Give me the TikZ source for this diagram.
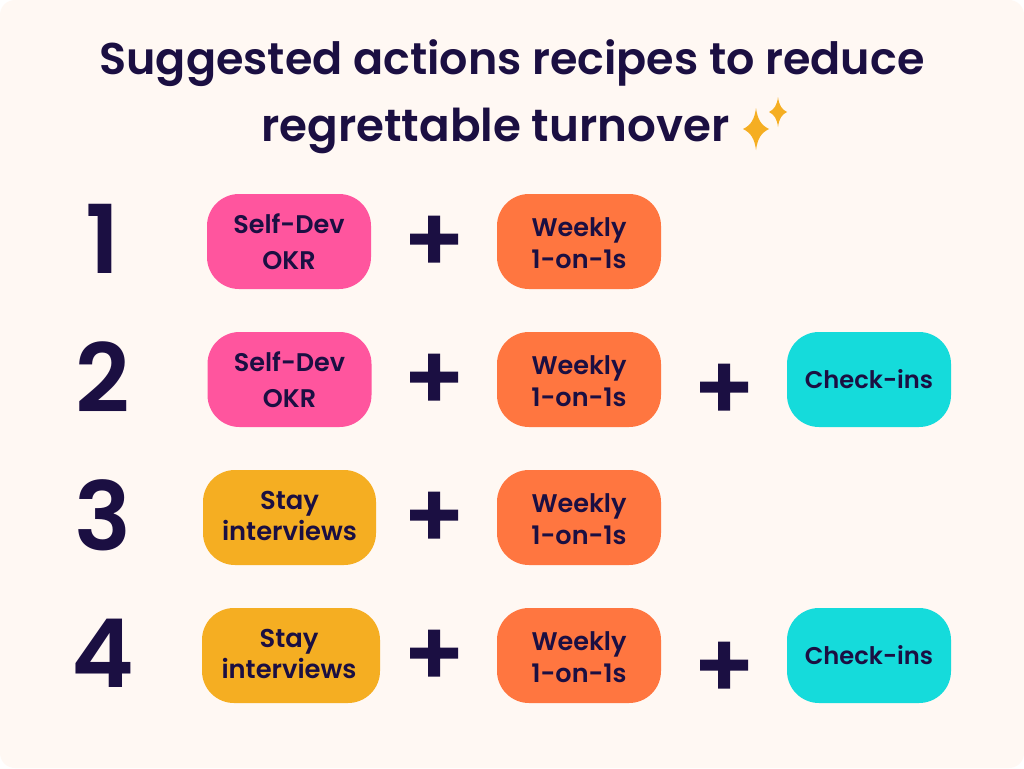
\documentclass[tikz,border=0pt]{standalone}
\usepackage{fontspec}
\setmainfont{Poppins}[BoldFont={Poppins SemiBold}]
\definecolor{ink}{HTML}{1B0F42}
\definecolor{paper}{HTML}{FFF8F3}
\definecolor{pinkbox}{HTML}{FF559E}
\definecolor{orangebox}{HTML}{FF7640}
\definecolor{tealbox}{HTML}{15DBDB}
\definecolor{yellowbox}{HTML}{F5AE22}
\tikzset{
  x=1pt,y=-1pt,
  chip/.style={rounded corners=32pt,minimum height=95pt,text=ink,align=center,inner sep=0pt,text height=0pt,text depth=0pt},
  selfdev/.style={chip,fill=pinkbox,minimum width=164pt},
  weekly/.style={chip,fill=orangebox,minimum width=164pt},
  checkin/.style={chip,fill=tealbox,minimum width=164pt},
  stay/.style={chip,fill=yellowbox},
  chiptext/.style={text=ink,align=center,inner sep=0pt},
  selftext/.style={chiptext,font=\bfseries\fontsize{25.5}{36}\selectfont},
  weeklytext/.style={chiptext,yshift=-1.5pt,font=\bfseries\fontsize{25.5}{32}\selectfont},
  staytext/.style={chiptext,yshift=1.5pt,font=\bfseries\fontsize{25.8}{31}\selectfont},
  checktext/.style={chiptext,font=\bfseries\fontsize{24.2}{32}\selectfont},
  numeral/.style={text=ink,font=\bfseries\fontsize{95}{95}\selectfont,inner sep=0pt},
  titletext/.style={text=ink,align=center,inner sep=0pt,font=\bfseries\fontsize{44.45}{66.5}\selectfont},
}
\newcommand{\plusat}[2]{\fill[ink] (#1-24,#2-5.5) -- ++(18,0) -- ++(0,-18) -- ++(12,0) -- ++(0,18) -- ++(18,0) -- ++(0,11) -- ++(-18,0) -- ++(0,18) -- ++(-12,0) -- ++(0,-18) -- ++(-18,0) -- cycle;}
\newcommand{\sparkle}[4]{\fill[yellowbox] (#1,#2-#4) .. controls (#1+0.12*#3,#2-0.45*#4) and (#1+0.4*#3,#2-0.18*#4) .. (#1+#3,#2) .. controls (#1+0.4*#3,#2+0.18*#4) and (#1+0.12*#3,#2+0.45*#4) .. (#1,#2+#4) .. controls (#1-0.12*#3,#2+0.45*#4) and (#1-0.4*#3,#2+0.18*#4) .. (#1-#3,#2) .. controls (#1-0.4*#3,#2-0.18*#4) and (#1-0.12*#3,#2-0.45*#4) .. cycle;}
\begin{document}
\begin{tikzpicture}
\useasboundingbox (0,0) rectangle (1024,768);
\fill[white] (0,0) rectangle (1024,768);
\fill[paper,rounded corners=15pt] (0,0) rectangle (1024,768);
\node[titletext] (title) at (512,96.5) {Suggested actions recipes to reduce\\{\fontsize{45.2}{66.5}\selectfont regrettable turnover}\rule{33pt}{0pt}};
\sparkle{756}{129}{13}{21}
\sparkle{778}{112}{9}{15}

\node[numeral] (n1) at (103,239) {1};
\node[numeral] (n2) at (103,377) {2};
\node[numeral] (n3) at (103,515) {3};
\node[numeral] (n4) at (103,653) {4};

\node[selfdev] (a1) at (289,241.5) {};
\node[selfdev] (a2) at (289.5,379.5) {};
\node[stay,minimum width=173pt] (a3) at (289.5,517.5) {};
\node[stay,minimum width=178pt] (a4) at (291,655.5) {};
\node[selftext] (a1t) at (a1) {Self-Dev\\OKR};
\node[selftext] (a2t) at (a2) {Self-Dev\\OKR};
\node[staytext] (a3t) at (a3) {Stay\\interviews};
\node[staytext,xshift=-2pt] (a4t) at (a4) {Stay\\interviews};

\node[weekly] (b1) at (579,241.5) {};
\node[weekly] (b2) at (579,379.5) {};
\node[weekly] (b3) at (579,517.5) {};
\node[weekly] (b4) at (579,655.5) {};
\node[weeklytext] (b1t) at (b1) {Weekly\\1-on-1s};
\node[weeklytext] (b2t) at (b2) {Weekly\\1-on-1s};
\node[weeklytext] (b3t) at (b3) {Weekly\\1-on-1s};
\node[weeklytext] (b4t) at (b4) {Weekly\\1-on-1s};

\node[checkin] (c2) at (869,379.5) {};
\node[checkin] (c4) at (869,655.5) {};
\node[checktext] (c2t) at (c2) {Check-ins};
\node[checktext] (c4t) at (c4) {Check-ins};

\plusat{434}{239}
\plusat{434}{377}
\plusat{434}{515}
\plusat{434}{653}
\plusat{724}{387}
\plusat{724}{665}
\end{tikzpicture}
\end{document}
